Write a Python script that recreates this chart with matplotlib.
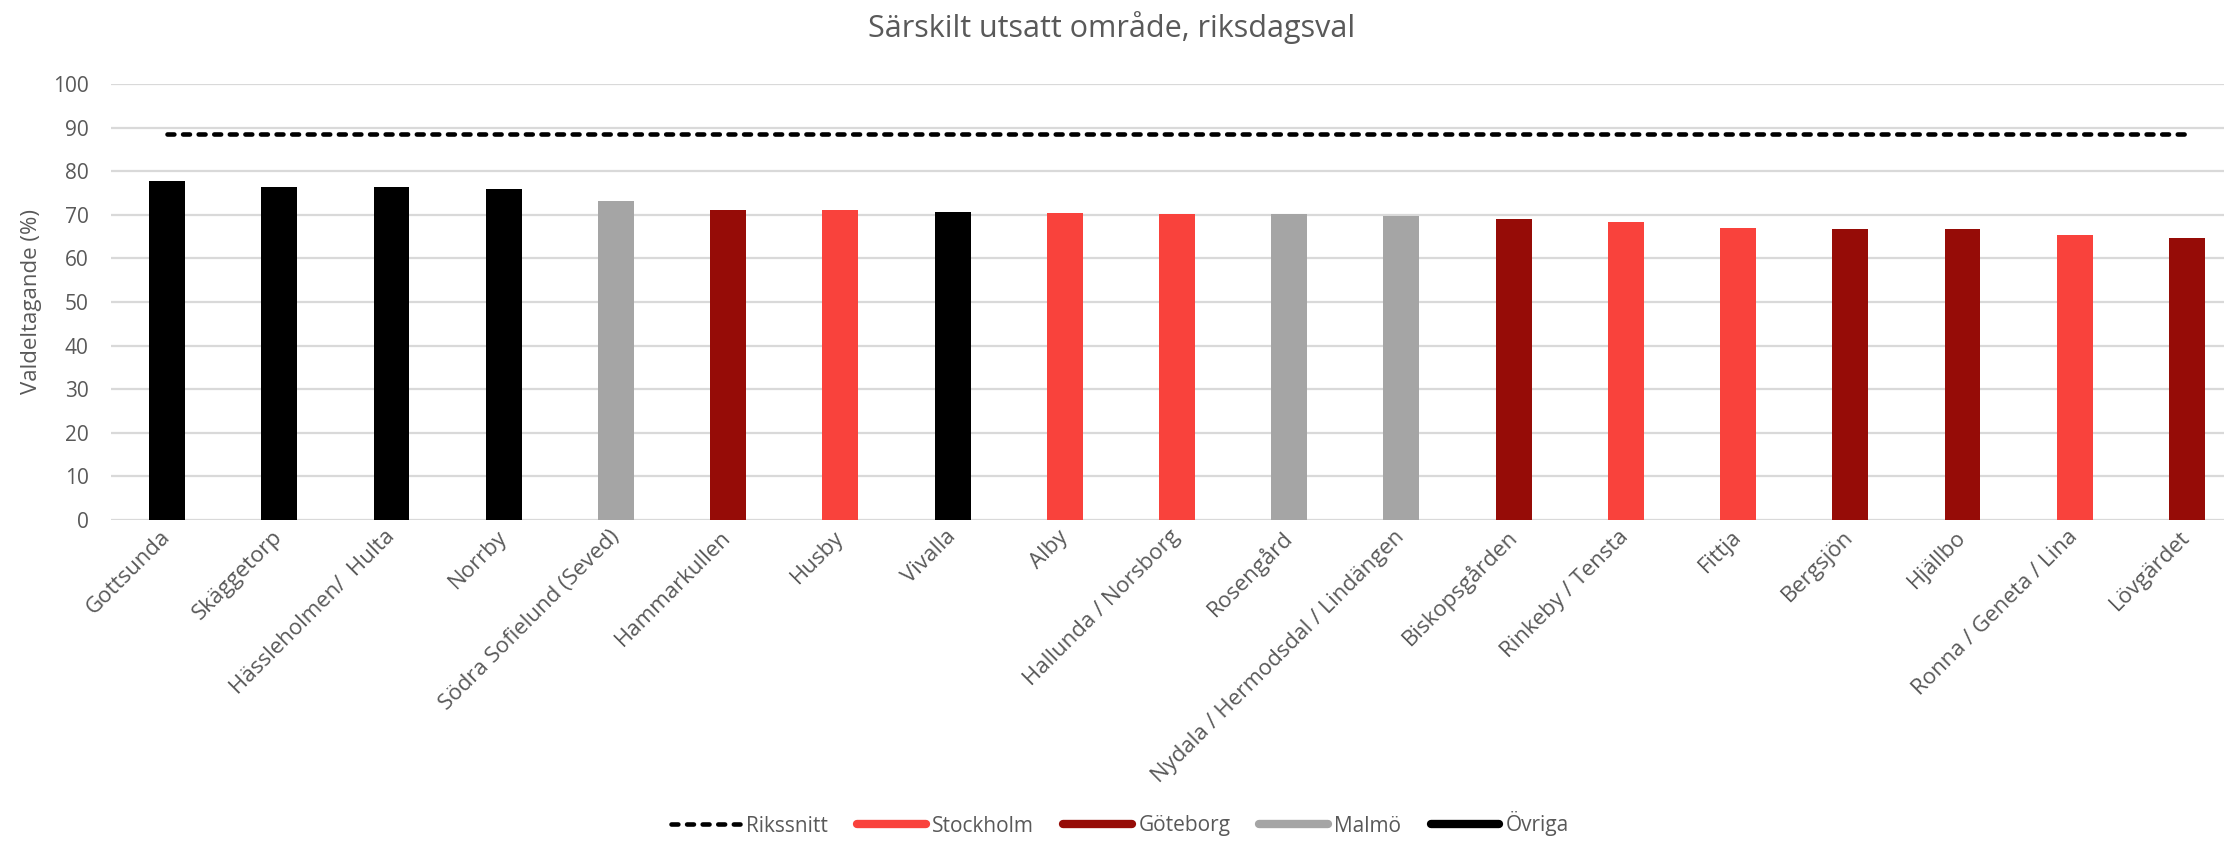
import matplotlib
matplotlib.use("Agg")
import matplotlib.pyplot as plt
from matplotlib.lines import Line2D
import numpy as np

plt.rcParams['font.family'] = ['Open Sans', 'DejaVu Sans']

categories = ["Gottsunda", "Skäggetorp", "Hässleholmen/  Hulta", "Norrby",
              "Södra Sofielund (Seved)", "Hammarkullen", "Husby", "Vivalla",
              "Alby", "Hallunda / Norsborg", "Rosengård",
              "Nydala / Hermodsdal / Lindängen", "Biskopsgården",
              "Rinkeby / Tensta", "Fittja", "Bergsjön", "Hjällbo",
              "Ronna / Geneta / Lina", "Lövgärdet"]
values = [77.8, 76.4, 76.4, 75.9, 73.2, 71.1, 71.1, 70.6, 70.4, 70.2, 70.2,
          69.7, 69.0, 68.3, 67.0, 66.7, 66.7, 65.4, 64.7]
regions = ["Övriga", "Övriga", "Övriga", "Övriga", "Malmö", "Göteborg",
           "Stockholm", "Övriga", "Stockholm", "Stockholm", "Malmö", "Malmö",
           "Göteborg", "Stockholm", "Stockholm", "Göteborg", "Göteborg",
           "Stockholm", "Göteborg"]
rikssnitt = 88.6
legend_labels = ["Rikssnitt", "Stockholm", "Göteborg", "Malmö", "Övriga"]

colors = {"Stockholm": "#F9423C", "Göteborg": "#960C07",
          "Malmö": "#A5A5A5", "Övriga": "#000000"}
txt = "#595959"
grid = "#D9D9D9"

fig = plt.figure(figsize=(22.24, 8.41), dpi=100)
ax = fig.add_axes([111/2224, (841-520)/841, 2132/2224, 436/841])

x = np.arange(len(categories))
ax.bar(x, values, width=0.32, color=[colors[r] for r in regions], zorder=3)
ax.plot(x, [rikssnitt]*len(x), color="black", lw=3.3, ls=(0, (1.5, 1.9)),
        dash_capstyle="round", zorder=4)

ax.set_xlim(-0.5, len(x)-0.5)
ax.set_ylim(0, 100)
ax.set_yticks(range(0, 101, 10))
ax.yaxis.grid(True, color=grid, lw=1.6, zorder=0)
ax.set_axisbelow(True)
for s in ax.spines.values():
    s.set_visible(False)
ax.tick_params(axis='both', length=0, colors=txt)
ax.tick_params(axis='y', labelsize=15, pad=16)
ax.tick_params(axis='x', labelsize=16, pad=10)
ax.set_xticks(x)
ax.set_xticklabels(categories, rotation=45, ha='right', va='center',
                   rotation_mode='anchor', color=txt)
for lab in ax.get_yticklabels():
    lab.set_color(txt)

ax.set_ylabel("Valdeltagande (%)", fontsize=16, color=txt, labelpad=8)
fig.text(0.5, 1-28/841, "Särskilt utsatt område, riksdagsval", ha='center',
         va='center', fontsize=22, color=txt)

handles = [Line2D([], [], color="black", lw=3.3, ls=(0, (1.5, 1.9)),
                  dash_capstyle="round")]
for r in legend_labels[1:]:
    handles.append(Line2D([], [], color=colors[r], lw=6, solid_capstyle="round"))
fig.legend(handles, legend_labels, loc='center', bbox_to_anchor=(1120/2224, 1-824/841),
           ncol=5, frameon=False, fontsize=15, handlelength=3.3,
           handletextpad=0.3, columnspacing=1.4, labelcolor=txt)

fig.savefig("out.png", dpi=100)
